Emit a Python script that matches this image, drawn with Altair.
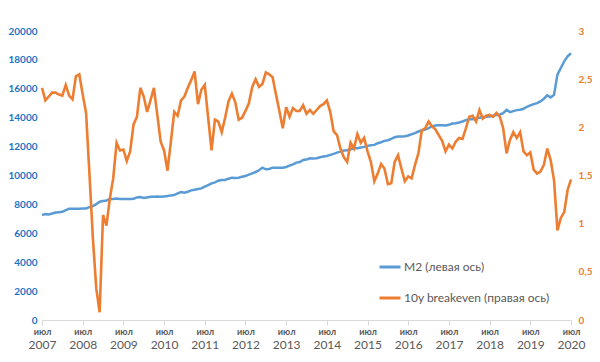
import altair as alt
import pandas as pd

# Monthly data, July 2007 .. July 2020
START_YEAR = 2007
SERIES = ["M2 (левая ось)", "10y breakeven (правая ось)"]
COLORS = ["#5B9BD5", "#ED7D31"]

M2 = [
    7257, 7326, 7303, 7373, 7442, 7465, 7488, 7604, 7697, 7697, 7697, 7697,
    7720, 7720, 7813, 7882, 8021, 8183, 8229, 8275, 8368, 8368, 8414, 8368,
    8368, 8368, 8368, 8391, 8484, 8507, 8438, 8484, 8530, 8530, 8553, 8530,
    8553, 8576, 8623, 8646, 8762, 8854, 8808, 8877, 8970, 9016, 9062, 9109,
    9224, 9340, 9456, 9525, 9641, 9688, 9688, 9780, 9850, 9826, 9850, 9919,
    9965, 10058, 10150, 10243, 10359, 10544, 10428, 10451, 10544, 10544, 10544, 10544,
    10590, 10683, 10775, 10891, 10937, 11076, 11099, 11192, 11169, 11192, 11262, 11308,
    11354, 11424, 11493, 11586, 11655, 11725, 11748, 11817, 11887, 11887, 11933, 11979,
    12049, 12095, 12118, 12234, 12303, 12396, 12442, 12535, 12651, 12697, 12697, 12720,
    12766, 12859, 12928, 13044, 13113, 13183, 13275, 13391, 13461, 13484, 13484, 13461,
    13507, 13600, 13623, 13669, 13738, 13831, 13900, 13900, 13947, 13993, 14039, 14062,
    14086, 14132, 14178, 14225, 14317, 14549, 14387, 14456, 14525, 14549, 14618, 14757,
    14850, 14942, 15012, 15127, 15312, 15544, 15405, 15590, 16979, 17442, 17905, 18252,
    18461,
]

BREAKEVEN = [
    2.41, 2.28, 2.32, 2.36, 2.36, 2.34, 2.33, 2.44, 2.33, 2.29, 2.53, 2.55,
    2.34, 2.15, 1.51, 0.85, 0.33, 0.08, 1.09, 0.98, 1.26, 1.47, 1.84, 1.76,
    1.77, 1.65, 1.75, 2.03, 2.11, 2.41, 2.32, 2.16, 2.28, 2.41, 2.13, 1.85,
    1.76, 1.55, 1.85, 2.16, 2.12, 2.28, 2.32, 2.41, 2.49, 2.58, 2.24, 2.39,
    2.44, 2.10, 1.76, 2.08, 2.06, 1.95, 2.10, 2.27, 2.35, 2.26, 2.08, 2.10,
    2.17, 2.25, 2.42, 2.50, 2.42, 2.45, 2.57, 2.55, 2.52, 2.34, 2.17, 1.99,
    2.21, 2.11, 2.20, 2.17, 2.17, 2.23, 2.14, 2.18, 2.14, 2.18, 2.22, 2.24,
    2.28, 2.16, 1.96, 1.92, 1.78, 1.69, 1.64, 1.84, 1.78, 1.93, 1.84, 1.89,
    1.75, 1.64, 1.44, 1.52, 1.62, 1.57, 1.41, 1.42, 1.64, 1.71, 1.57, 1.44,
    1.49, 1.47, 1.61, 1.73, 1.97, 1.99, 2.06, 2.01, 1.98, 1.92, 1.86, 1.75,
    1.82, 1.78, 1.85, 1.89, 1.88, 1.99, 2.11, 2.12, 2.06, 2.18, 2.09, 2.12,
    2.13, 2.11, 2.15, 2.11, 1.99, 1.73, 1.87, 1.95, 1.89, 1.95, 1.75, 1.71,
    1.74, 1.56, 1.52, 1.54, 1.61, 1.78, 1.66, 1.45, 0.93, 1.06, 1.12, 1.35,
    1.46,
]

X_TICKS = list(range(0, len(M2), 12))
LEFT_TICKS = list(range(0, 20001, 2000))
RIGHT_TICKS = [0, 0.5, 1, 1.5, 2, 2.5, 3]

FONT = "Lato"

df_m2 = pd.DataFrame({"m": range(len(M2)), "v": M2, "series": SERIES[0]})
df_be = pd.DataFrame({"m": range(len(BREAKEVEN)), "v": BREAKEVEN, "series": SERIES[1]})

xscale = alt.Scale(domain=[0, len(M2) - 1], nice=False, zero=False)

color = alt.Color(
    "series:N",
    scale=alt.Scale(domain=SERIES, range=COLORS),
    legend=alt.Legend(
        orient="none", legendX=336, legendY=224, title=None,
        symbolType="stroke", symbolSize=441, symbolStrokeWidth=3,
        labelFont=FONT, labelFontSize=12, labelColor="#595959",
        labelOffset=2, rowPadding=13,
    ),
)

m2_line = alt.Chart(df_m2).mark_line(strokeWidth=2.5).encode(
    x=alt.X("m:Q", scale=xscale, title=None,
            axis=alt.Axis(orient="bottom", values=X_TICKS, labelExpr="'июл'", grid=False,
                          labelOverlap=False, labelFlush=False,
                          domainColor="#d9d9d9", tickColor="#d9d9d9", tickSize=5,
                          labelFont=FONT, labelFontSize=9, labelFontWeight="bold",
                          labelColor="#595959", labelPadding=2)),
    y=alt.Y("v:Q", scale=alt.Scale(domain=[0, 20000], nice=False), title=None,
            axis=alt.Axis(values=LEFT_TICKS, grid=False, domain=False, ticks=False,
                          labelFont=FONT, labelFontSize=10, labelFontWeight="bold",
                          labelColor="#1A73C4", labelPadding=5, format="d")),
    color=color,
)

be_line = alt.Chart(df_be).mark_line(strokeWidth=2.6).encode(
    x=alt.X("m:Q", scale=xscale, title=None,
            axis=alt.Axis(orient="bottom", values=X_TICKS,
                          labelExpr=f"toString({START_YEAR} + datum.value / 12)",
                          grid=False, domain=False, ticks=False,
                          labelOverlap=False, labelFlush=False,
                          labelFont=FONT, labelFontSize=12,
                          labelColor="#595959", labelPadding=19)),
    y=alt.Y("v:Q", scale=alt.Scale(domain=[0, 3], nice=False), title=None,
            axis=alt.Axis(orient="right", values=RIGHT_TICKS, grid=False, domain=False,
                          ticks=False, labelFont=FONT, labelFontSize=10,
                          labelFontWeight="bold", labelColor="#ED7D31", labelPadding=7,
                          labelExpr="replace(toString(datum.value), '.', ',')")),
    color=color,
)

chart = (
    alt.layer(m2_line, be_line)
    .resolve_scale(y="independent")
    .resolve_axis(x="independent", y="independent")
    .properties(width=529, height=289,
                autosize=alt.AutoSizeParams(type="none"),
                padding={"left": 34, "top": 23, "right": 21, "bottom": 34})
    .configure_view(stroke=None)
)

chart.save("out.html", embed_options={"renderer": "svg", "actions": False})
